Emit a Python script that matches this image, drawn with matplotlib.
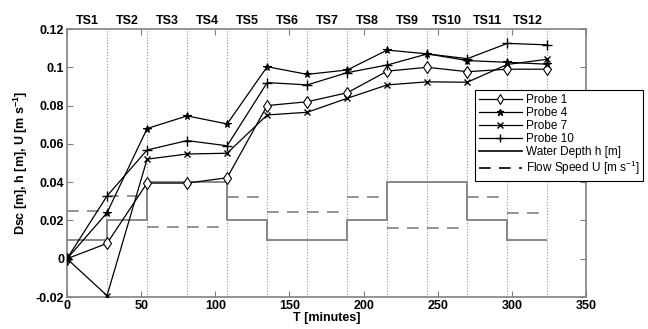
import matplotlib
matplotlib.use("Agg")
import matplotlib.pyplot as plt
from matplotlib.lines import Line2D
import numpy as np

plt.rcParams['font.family'] = ['Liberation Sans', 'DejaVu Sans']
plt.rcParams['mathtext.default'] = 'regular'

# ---- data ----
times = [0, 27, 54, 81, 108, 135, 162, 189, 216, 243, 270, 297, 324]
probe1 = [0, 0.008, 0.0395, 0.0395, 0.0423, 0.080, 0.082, 0.0867, 0.098, 0.100, 0.0977, 0.099, 0.099]
probe4 = [0, 0.024, 0.068, 0.0746, 0.0704, 0.1003, 0.0963, 0.0986, 0.109, 0.107, 0.1035, 0.1026, 0.1016]
probe7 = [0, -0.0193, 0.052, 0.0547, 0.0551, 0.0751, 0.0765, 0.0838, 0.0908, 0.0924, 0.0922, 0.1015, 0.1042]
probe10 = [0, 0.0328, 0.0568, 0.0617, 0.059, 0.092, 0.0908, 0.0972, 0.1012, 0.107, 0.1045, 0.1125, 0.1117]
ts_labels = ['TS1', 'TS2', 'TS3', 'TS4', 'TS5', 'TS6', 'TS7', 'TS8', 'TS9', 'TS10', 'TS11', 'TS12']
water_depth = [0.01, 0.02, 0.04, 0.04, 0.02, 0.01, 0.01, 0.02, 0.04, 0.04, 0.02, 0.01]
flow_speed = [0.025, 0.033, 0.0165, 0.0165, 0.032, 0.0245, 0.0245, 0.032, 0.016, 0.016, 0.032, 0.024]

fig = plt.figure(figsize=(6.48, 3.29), dpi=100)
ax = fig.add_axes([67/648, 1-297/329, (586-67)/648, (297-29)/329])

gray = '#808080'
# vertical dotted lines at TS boundaries
for t in times[1:]:
    ax.axvline(t, color='#909090', linestyle=':', linewidth=0.8, zorder=1)

# water depth and flow speed
ax.stairs(water_depth, times, baseline=None, color=gray, linewidth=1.3, zorder=2)
ax.hlines(flow_speed, times[:-1], times[1:], colors=gray, linestyles=(0, (7, 5)), linewidth=1.2, zorder=2)

lw = 0.9
ax.plot(times, probe1, color='black', lw=lw, marker='d', ms=6.5, mfc='white', mec='black', mew=0.8, zorder=3)
ax.plot(times, probe4, color='black', lw=lw, marker='*', ms=5.5, mfc='black', mec='black', mew=0.8, zorder=3)
ax.plot(times, probe7, color='black', lw=lw, marker='x', ms=5, mec='black', mew=1.0, zorder=3)
ax.plot(times, probe10, color='black', lw=lw, marker='+', ms=6.5, mec='black', mew=1.0, zorder=3)

ax.set_xlim(0, 350)
ax.set_ylim(-0.02, 0.12)
ax.set_xticks([0, 50, 100, 150, 200, 250, 300, 350])
ax.set_xticklabels(['0', '50', '100', '150', '200', '250', '300', '350'])
ax.set_yticks([-0.02, 0, 0.02, 0.04, 0.06, 0.08, 0.1, 0.12])
ax.set_yticklabels(['-0.02', '0', '0.02', '0.04', '0.06', '0.08', '0.1', '0.12'])
ax.tick_params(direction='in', top=True, right=True, length=4, width=0.8, color=gray,
               labelsize=9, pad=2)
for lab in ax.get_xticklabels() + ax.get_yticklabels():
    lab.set_fontweight('bold')
for sp in ax.spines.values():
    sp.set_color(gray)
    sp.set_linewidth(1.2)

ax.set_xlabel('T [minutes]', fontsize=9, fontweight='bold', labelpad=0)
ax.set_ylabel('Dsc [m], h [m], U [m s$^{-1}$]', fontsize=9, fontweight='bold', labelpad=4)

# TS labels at top
mids = [(a + b) / 2 for a, b in zip(times[:-1], times[1:])]
for m, lab in zip(mids, ts_labels):
    ax.text(m, 1.008, lab, transform=ax.get_xaxis_transform(), ha='center', va='bottom',
            fontsize=9, fontweight='bold')

handles = [
    Line2D([], [], color='black', lw=lw, marker='d', ms=5.5, mfc='white', mec='black', mew=0.8),
    Line2D([], [], color='black', lw=lw, marker='*', ms=5, mfc='black', mec='black'),
    Line2D([], [], color='black', lw=lw, marker='x', ms=4, mec='black'),
    Line2D([], [], color='black', lw=lw, marker='+', ms=6, mec='black'),
    Line2D([], [], color='black', lw=1.2),
    Line2D([], [], color='black', lw=1.2, linestyle=(0, (7, 5))),
]
labels = ['Probe 1', 'Probe 4', 'Probe 7', 'Probe 10', 'Water Depth h [m]', 'Flow Speed U [m s$^{-1}$]']
leg = fig.legend(handles, labels, loc='upper left', bbox_to_anchor=(475/648, 1-90/329),
                 fontsize=8.5, frameon=True, fancybox=False, framealpha=1, edgecolor='black',
                 handlelength=3.6, handletextpad=0.35, labelspacing=0.08, borderpad=0.35,
                 borderaxespad=0)
leg.get_frame().set_linewidth(0.8)

fig.savefig('out.png', dpi=100)
